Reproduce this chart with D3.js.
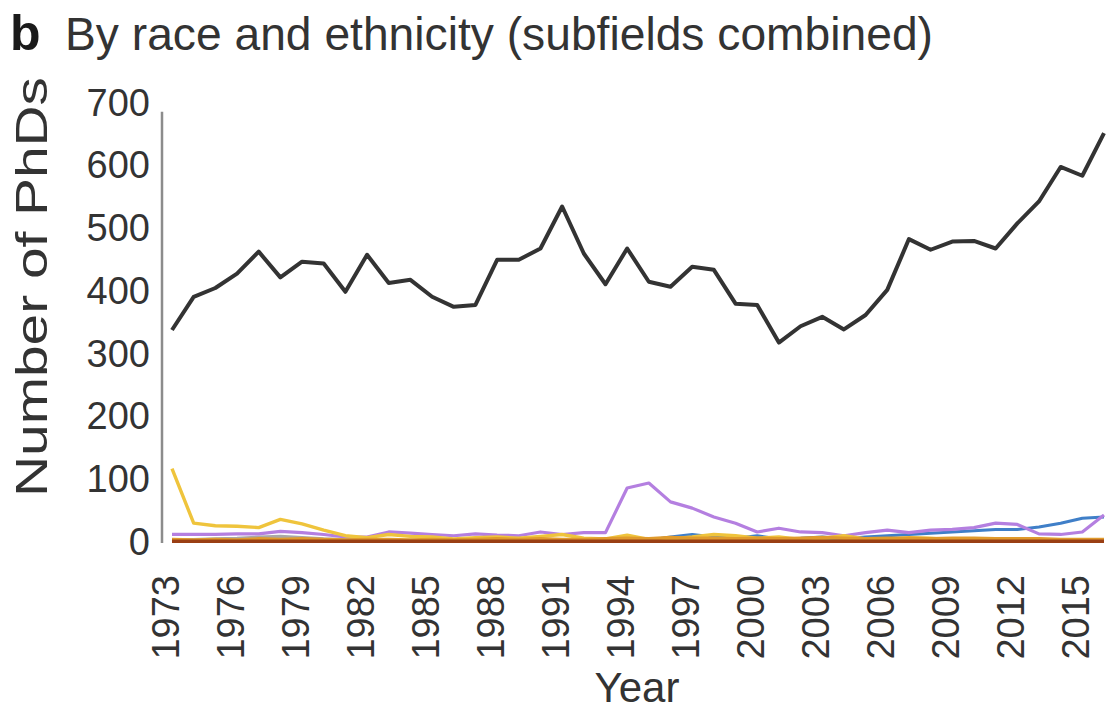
<!DOCTYPE html>
<html>
<head>
<meta charset="utf-8">
<script src="https://cdn.jsdelivr.net/npm/d3@7"></script>
<style>
  body { margin: 0; background: #fff; }
  svg { display: block; font-family: "Liberation Sans", Arial, sans-serif; }
</style>
</head>
<body>
<div id="container"></div>
<script>
/* CONSTANTS AND GLOBALS */
const width = 1120;
const height = 715;

/* DATA */
const years = [1973, 1974, 1975, 1976, 1977, 1978, 1979, 1980, 1981, 1982, 1983,
  1984, 1985, 1986, 1987, 1988, 1989, 1990, 1991, 1992, 1993, 1994, 1995, 1996,
  1997, 1998, 1999, 2000, 2001, 2002, 2003, 2004, 2005, 2006, 2007, 2008, 2009,
  2010, 2011, 2012, 2013, 2014, 2015, 2016];

const yTicks = [0, 100, 200, 300, 400, 500, 600, 700];
const xTicks = [1973, 1976, 1979, 1982, 1985, 1988, 1991, 1994, 1997, 2000, 2003, 2006, 2009, 2012, 2015];

// black (largest group)
const seriesBlack = [338, 391, 405, 428, 463, 422, 447, 444, 399, 458, 413,
  418, 391, 375, 378, 450, 450, 468, 535, 460, 411, 468, 415, 407,
  439, 434, 380, 378, 318, 344, 359, 339, 362, 402, 483, 466, 479,
  480, 468, 508, 543, 598, 584, 652];

const seriesYellow = [117, 30, 26, 25, 23, 36, 29, 19, 10, 7, 12,
  9, 8, 5, 7, 8, 6, 9, 12, 6, 5, 11, 4, 5,
  8, 12, 10, 6, 8, 4, 6, 10, 5, 4, 7, 6, 3,
  5, 4, 3, 3, 2, 2, 2];

const seriesPurple = [12, 12, 12, 13, 13, 17, 15, 12, 8, 8, 16,
  14, 12, 10, 13, 11, 10, 16, 12, 15, 15, 86, 94, 64,
  54, 40, 30, 16, 22, 16, 15, 10, 15, 19, 15, 19, 20,
  23, 30, 28, 13, 12, 16, 43];

const seriesBlue = [2, 2, 1, 1, 4, 2, 1, 2, 1, 2, 1,
  2, 1, 2, 1, 2, 2, 1, 3, 2, 2, 2, 3, 8,
  12, 8, 6, 10, 5, 6, 8, 5, 8, 10, 12, 14, 16,
  18, 20, 20, 24, 30, 38, 40];

const seriesGray = [3, 4, 5, 6, 8, 9, 7, 5, 4, 3, 3,
  2, 3, 3, 2, 3, 4, 3, 2, 3, 2, 3, 4, 6,
  9, 8, 7, 4, 3, 3, 4, 3, 2, 3, 4, 3, 4,
  3, 3, 2, 3, 3, 2, 2];

const seriesGreen = [3, 2, 2, 2, 3, 2, 3, 2, 2, 3, 2,
  3, 2, 2, 3, 2, 3, 2, 3, 2, 3, 3, 4, 3,
  5, 4, 3, 5, 2, 3, 2, 3, 2, 3, 4, 3, 3,
  2, 4, 3, 2, 3, 2, 3];

const seriesOrange = [4, 3, 4, 3, 5, 4, 5, 4, 3, 4, 4,
  3, 4, 3, 4, 5, 4, 5, 4, 4, 5, 6, 5, 7,
  6, 6, 5, 6, 5, 6, 7, 6, 5, 6, 6, 5, 6,
  6, 5, 5, 5, 4, 4, 4];

const seriesBrown = [1, 1, 1, 1, 1, 1, 1, 1, 1, 1, 1,
  1, 1, 1, 1, 1, 1, 1, 1, 1, 1, 1, 1, 1,
  1, 1, 1, 1, 1, 1, 1, 1, 1, 1, 1, 1, 1,
  1, 1, 1, 1, 1, 1, 1];

const seriesList = [
  { name: "gray",   values: seriesGray,   color: "#a8a8a8", w: 3 },
  { name: "green",  values: seriesGreen,  color: "#7ccf6a", w: 2.5 },
  { name: "blue",   values: seriesBlue,   color: "#3f7fc8", w: 3 },
  { name: "purple", values: seriesPurple, color: "#b47fe0", w: 3.2 },
  { name: "yellow", values: seriesYellow, color: "#efc43c", w: 3.4 },
  { name: "orange", values: seriesOrange, color: "#e09a2c", w: 3.5 },
  { name: "brown",  values: seriesBrown,  color: "#9a3f14", w: 3.5 },
  { name: "black",  values: seriesBlack,  color: "#333333", w: 4 }
];

/* SVG */
const svg = d3.select("#container")
  .append("svg")
  .attr("width", width)
  .attr("height", height);

/* SCALES */
const xScale = d3.scaleLinear()
  .domain([1973, 2016])
  .range([172, 1104]);

const yScale = d3.scaleLinear()
  .domain([0, 700])
  .range([542, 103]);

/* TITLE */
svg.append("text")
  .attr("x", 10)
  .attr("y", 50)
  .style("font-size", "50px")
  .style("font-weight", "bold")
  .attr("fill", "#1a1a1a")
  .text("b");

svg.append("text")
  .attr("x", 65)
  .attr("y", 50)
  .style("font-size", "46px")
  .attr("fill", "#333")
  .attr("textLength", 868)
  .attr("lengthAdjust", "spacingAndGlyphs")
  .text("By race and ethnicity (subfields combined)");

/* AXES */
// y axis line (no tick marks)
svg.append("line")
  .attr("x1", 162).attr("x2", 162)
  .attr("y1", yScale(0) + 1).attr("y2", yScale(686))
  .attr("stroke", "#8c8c8c")
  .attr("stroke-width", 2.5);

const yAxis = d3.axisLeft(yScale)
  .tickValues(yTicks)
  .tickSize(0)
  .tickPadding(12);

svg.append("g")
  .attr("transform", "translate(150, 0)")
  .call(yAxis)
  .call(g => g.select(".domain").remove())
  .selectAll("text")
  .style("font-size", "38px")
  .style("font-family", "Liberation Sans, Arial, sans-serif")
  .attr("x", 0)
  .attr("fill", "#333");

const xAxis = d3.axisBottom(xScale)
  .tickValues(xTicks)
  .tickFormat(d3.format("d"))
  .tickSize(0);

svg.append("g")
  .attr("transform", `translate(0, ${yScale(0)})`)
  .call(xAxis)
  .call(g => g.select(".domain").remove())
  .selectAll("text")
  .style("font-size", "38px")
  .style("font-family", "Liberation Sans, Arial, sans-serif")
  .attr("fill", "#333")
  .attr("transform", "rotate(-90)")
  .attr("text-anchor", "end")
  .attr("x", -33)
  .attr("y", -7)
  .attr("dy", "0.35em");

// axis titles
svg.append("text")
  .attr("transform", `translate(47, 287) rotate(-90)`)
  .attr("text-anchor", "middle")
  .style("font-size", "44px")
  .attr("fill", "#333")
  .attr("textLength", 420)
  .attr("lengthAdjust", "spacingAndGlyphs")
  .text("Number of PhDs");

svg.append("text")
  .attr("x", 637)
  .attr("y", 702)
  .attr("text-anchor", "middle")
  .style("font-size", "42px")
  .attr("fill", "#333")
  .text("Year");

/* LINES */
const line = d3.line()
  .x((d, i) => xScale(years[i]))
  .y(d => yScale(d));

svg.selectAll(".series")
  .data(seriesList)
  .join("path")
  .attr("class", "series")
  .attr("d", d => line(d.values))
  .attr("fill", "none")
  .attr("stroke", d => d.color)
  .attr("stroke-width", d => d.w)
  .attr("stroke-linejoin", "round");
</script>
</body>
</html>
